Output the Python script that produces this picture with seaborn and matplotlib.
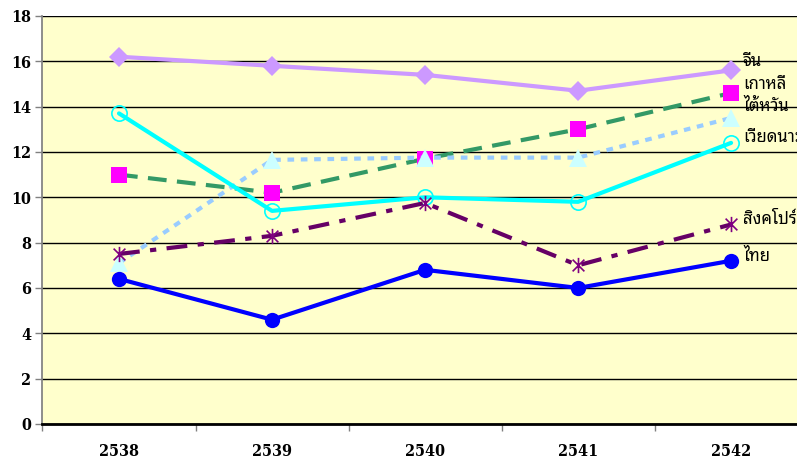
import matplotlib
matplotlib.use("Agg")
import matplotlib.pyplot as plt
import seaborn as sns
import pandas as pd
import numpy as np
from matplotlib.path import Path
from matplotlib.ticker import FixedLocator
from matplotlib import font_manager

# --- data ---
years = ["2538", "2539", "2540", "2541", "2542"]
names = ["จีน", "เกาหลี", "ไต้หวัน", "เวียดนาม", "สิงคโปร์", "ไทย"]
china = [16.2, 15.8, 15.4, 14.7, 15.6]
korea = [11.0, 10.2, 11.7, 13.0, 14.6]
taiwan = [7.1, 11.65, 11.75, 11.75, 13.5]
vietnam = [13.7, 9.4, 10.0, 9.8, 12.4]
singapore = [7.5, 8.3, 9.75, 7.0, 8.8]
thai = [6.4, 4.6, 6.8, 6.0, 7.2]
label_y = [15.95, 14.95, 14.0, 12.6, 9.0, 7.35]

sns.set_theme(style="white")
plt.rcParams["font.family"] = ["Liberation Serif", "DejaVu Serif"]

# condensed heavy serif for the tick labels, if it is there
tick_font = None
for f in font_manager.fontManager.ttflist:
    if f.fname.endswith("DejaVuSerifCondensed-Bold.ttf"):
        tick_font = font_manager.FontProperties(fname=f.fname, size=11.5)
        break
if tick_font is None:
    tick_font = font_manager.FontProperties(family="Liberation Serif", weight="bold", size=12.5)

# excel style asterisk: an x with a vertical bar
star = Path([(-1, -1), (1, 1), (-1, 1), (1, -1), (0, -1.3), (0, 1.3)],
            [Path.MOVETO, Path.LINETO, Path.MOVETO, Path.LINETO, Path.MOVETO, Path.LINETO])

styles = [
    dict(color="#CC99FF", marker="D", ms=10, mfc="#CC99FF", mec="#CC99FF", dashes=None),
    dict(color="#339966", marker="s", ms=11, mfc="#FF00FF", mec="#FF00FF", dashes=(4.5, 2.5)),
    dict(color="#99CCFF", marker="^", ms=13, mfc="#CCFFFF", mec="#CCFFFF", dashes=(1.6, 1.6)),
    dict(color="#00FFFF", marker="o", ms=11, mfc="none", mec="#00FFFF", dashes=None),
    dict(color="#660066", marker=star, ms=11, mfc="#800080", mec="#800080", dashes=(5, 2.5, 1.5, 2.5)),
    dict(color="#0000FF", marker="o", ms=11, mfc="#0000FF", mec="#0000FF", dashes=None),
]
series = [china, korea, taiwan, vietnam, singapore, thai]

fig = plt.figure(figsize=(7.97, 4.59), dpi=100)
ax = fig.add_axes([0.0533, 0.0763, 0.96, 0.889])
ax.set_facecolor("#FFFFCC")

x = np.arange(len(years))
for vals, st, name in zip(series, styles, names):
    df = pd.DataFrame({"x": x, "y": vals})
    sns.lineplot(data=df, x="x", y="y", ax=ax, color=st["color"], lw=3,
                 marker=st["marker"], markersize=st["ms"],
                 markerfacecolor=st["mfc"], markeredgecolor=st["mec"],
                 markeredgewidth=1.2 if st["marker"] is star or st["mfc"] == "none" else 0)
    l = ax.lines[-1]
    if st["dashes"] is not None:
        l.set_dashes(st["dashes"])
    l.set_zorder(3)

# series names sit just right of the last point (vietnam runs off the edge, as in the original)
for name, y in zip(names, label_y):
    ax.text(4.08, y, name, fontsize=12, va="center", ha="left",
            family=["Noto Sans Thai Looped", "DejaVu Sans"], color="black")

ax.set_xlim(-0.5, 4.5)
ax.set_ylim(0, 18)
ax.set_yticks(np.arange(0, 19, 2))
ax.yaxis.grid(True, color="black", lw=1)
ax.set_axisbelow(True)
ax.set_xticks(x)
ax.set_xticklabels(years)
ax.xaxis.set_minor_locator(FixedLocator(np.arange(-0.5, 5, 1)))
ax.tick_params(axis="x", which="major", length=0, pad=14)
ax.tick_params(axis="x", which="minor", length=5, color="#808080", width=1, direction="out", bottom=True)
ax.tick_params(axis="y", length=5, color="#808080", width=1, direction="out", left=True, pad=3)
for lab in ax.get_xticklabels() + ax.get_yticklabels():
    lab.set_fontproperties(tick_font)
    lab.set_color("black")
ax.set_xlabel("")
ax.set_ylabel("")
for s in ["top", "right"]:
    ax.spines[s].set_visible(False)
ax.spines["left"].set_color("#808080")
ax.spines["bottom"].set_color("black")
ax.spines["bottom"].set_linewidth(2)

fig.savefig("out.png", dpi=100)
